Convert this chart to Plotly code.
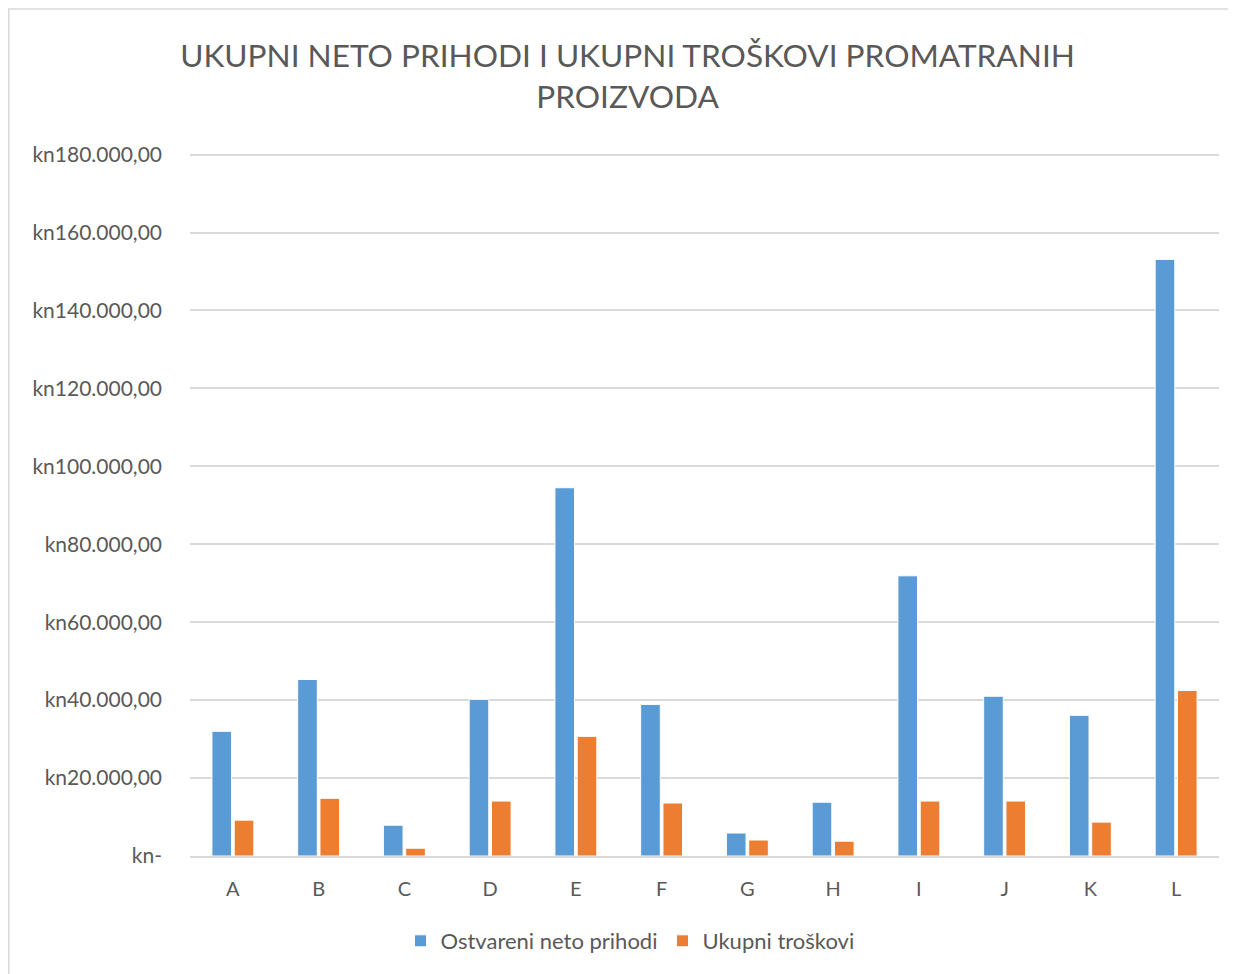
import plotly.graph_objects as go

categories = ["A", "B", "C", "D", "E", "F", "G", "H", "I", "J", "K", "L"]
neto_prihodi = [32000, 45300, 7900, 40200, 94500, 38900, 5900, 13800, 71900, 41000, 36100, 153100]
ukupni_troskovi = [9200, 14800, 2000, 14100, 30700, 13600, 4100, 3800, 14100, 14100, 8700, 42500]
tick_values = [0, 20000, 40000, 60000, 80000, 100000, 120000, 140000, 160000, 180000]
tick_labels = ["kn-", "kn20.000,00", "kn40.000,00", "kn60.000,00", "kn80.000,00",
               "kn100.000,00", "kn120.000,00", "kn140.000,00", "kn160.000,00", "kn180.000,00"]

OFF = 8  # page body margin
W, H = 1236 - OFF, 974 - OFF
L, R, T, B = 190 - OFF, 17, 153 - OFF, 118
pw, ph = W - L - R, H - T - B

def px(x):  # page x -> paper
    return (x - OFF - L) / pw

def py(y):  # page y -> paper
    return (H - B - (y - OFF)) / ph

font_family = "Lato, 'Open Sans', sans-serif"
grey = "#595959"

fig = go.Figure()
fig.add_trace(go.Bar(x=categories, y=neto_prihodi, name="Ostvareni neto prihodi",
                     marker=dict(color="#5B9BD5", line=dict(color="white", width=1))))
fig.add_trace(go.Bar(x=categories, y=ukupni_troskovi, name="Ukupni troškovi",
                     marker=dict(color="#ED7D31", line=dict(color="white", width=1))))

fig.update_layout(
    width=W, height=H,
    margin=dict(l=L, r=R, t=T, b=B),
    paper_bgcolor="white", plot_bgcolor="white",
    font=dict(family=font_family, color=grey, size=20),
    title=dict(text="UKUPNI NETO PRIHODI I UKUPNI TROŠKOVI PROMATRANIH<br>PROIZVODA",
               x=(627.5 - OFF) / W, xref="container", xanchor="center",
               y=1 - 59 / H, yref="container", yanchor="middle",
               font=dict(size=31.6, color=grey, family=font_family)),
    barmode="group", bargap=0.48, bargroupgap=0.12,
    legend=dict(orientation="h", x=px(630), xanchor="center", y=py(941), yanchor="middle",
                font=dict(size=22, color=grey), itemwidth=30, traceorder="normal"),
    showlegend=True,
)
fig.update_xaxes(showgrid=False, showline=True, linecolor="#D9D9D9", linewidth=2,
                 ticks="", tickfont=dict(size=20, color=grey), ticklabelstandoff=14)
fig.update_yaxes(range=[0, 180400], tickvals=tick_values, ticktext=tick_labels,
                 showgrid=True, gridcolor="#D9D9D9", gridwidth=1.5, zeroline=False,
                 showline=False, ticks="", tickfont=dict(size=21, color=grey),
                 ticklabelstandoff=27)

fig.add_shape(type="rect", xref="paper", yref="paper",
              x0=px(8.8), x1=px(1250), y0=py(990), y1=py(9),
              line=dict(color="#D9D9D9", width=1.5), fillcolor="rgba(0,0,0,0)", layer="below")

fig.write_html("out.html")
